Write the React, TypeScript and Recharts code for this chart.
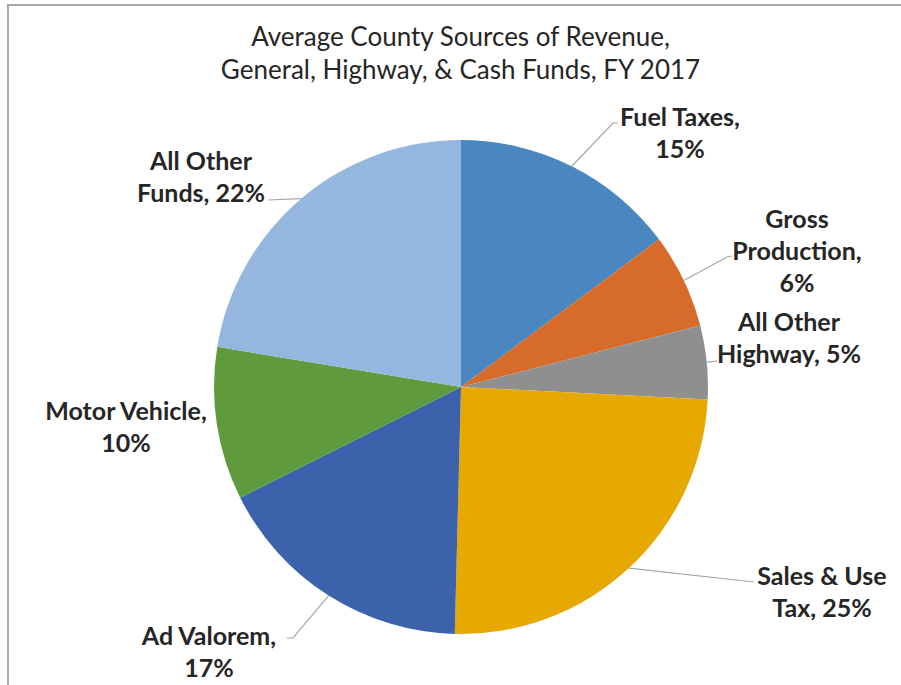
import React from "react";
import { PieChart, Pie, Cell } from "recharts";

const categories = [
  "Fuel Taxes",
  "Gross Production",
  "All Other Highway",
  "Sales & Use Tax",
  "Ad Valorem",
  "Motor Vehicle",
  "All Other Funds",
];
const shares = [14.8, 6.2, 4.8, 24.6, 17.2, 10.0, 22.4];
const percentLabels = [15, 6, 5, 25, 17, 10, 22];
const colors = ["#4a87c0", "#d76b2a", "#8f8f8f", "#e5a902", "#3b62ab", "#5f9b3d", "#95b7df"];

const titleLines = ["Average County Sources of Revenue,", "General, Highway, & Cash Funds, FY 2017"];

// label layout: text centre offsets from pie centre, words per line, leader path points
const labelLayout = [
  { dx: 219, dy: -271, words: [2, 1], path: [[152, -264], [157, -264]] },
  { dx: 336, dy: -169, words: [1, 1, 1], path: [[266, -130], [271, -131]] },
  { dx: 328, dy: -66, words: [2, 2], path: [[256, -26]] },
  { dx: 361, dy: 188, words: [3, 2], path: [[293, 195]] },
  { dx: -252, dy: 248, words: [2, 1], path: [[-168, 251], [-174, 251]] },
  { dx: -335, dy: 23, words: [2, 1], path: [] },
  { dx: -260, dy: -227, words: [2, 2], path: [[-193, -187]] },
];

const data = categories.map((name, i) => ({ name, value: shares[i], pct: percentLabels[i] }));

const FONT = "Lato, 'Open Sans', sans-serif";
const RAD = Math.PI / 180;

const renderLabel = (props: any) => {
  const { cx, cy, midAngle, outerRadius, index } = props;
  const lay = labelLayout[index];
  const d = data[index];
  const words = `${d.name}, ${d.pct}%`.split(" ");
  const lines: string[] = [];
  let k = 0;
  lay.words.forEach((n) => {
    lines.push(words.slice(k, k + n).join(" "));
    k += n;
  });
  const sx = cx + outerRadius * Math.cos(-midAngle * RAD);
  const sy = cy + outerRadius * Math.sin(-midAngle * RAD);
  const pts = [[sx, sy], ...lay.path.map(([x, y]) => [cx + x, cy + y])];
  return (
    <g>
      {pts.length > 1 && (
        <polyline
          points={pts.map((p) => p.join(",")).join(" ")}
          fill="none"
          stroke="#a6a6a6"
          strokeWidth={1.2}
        />
      )}
      <text
        x={cx + lay.dx}
        y={cy + lay.dy}
        textAnchor="middle"
        dominantBaseline="central"
        fill="#262626"
        fontFamily={FONT}
        fontWeight={700}
        fontSize={25}
      >
        {lines.map((ln, i) => (
          <tspan key={i} x={cx + lay.dx} dy={i === 0 ? 0 : 32}>
            {ln}
          </tspan>
        ))}
      </text>
    </g>
  );
};

export default function App() {
  return (
    <div style={{ position: "absolute", left: 0, top: 0, width: 901, height: 685, overflow: "hidden", background: "#fff" }}>
      <div
        style={{
          position: "absolute",
          left: 7,
          top: 4,
          width: 901,
          height: 690,
          borderTop: "2px solid #a8a8a8",
          borderLeft: "2px solid #a8a8a8",
        }}
      />
      <div
        style={{
          position: "absolute",
          left: 0,
          top: 20,
          width: 921,
          textAlign: "center",
          fontFamily: FONT,
          fontSize: 26,
          lineHeight: "33px",
          color: "#262626",
        }}
      >
        {titleLines.map((t, i) => (
          <div key={i}>{t}</div>
        ))}
      </div>
      <div style={{ position: "absolute", left: 0, top: 0 }}>
        <PieChart width={901} height={685} margin={{ top: 0, right: 0, bottom: 0, left: 0 }}>
          <Pie
            data={data}
            dataKey="value"
            nameKey="name"
            cx={461}
            cy={387}
            outerRadius={247}
            startAngle={90}
            endAngle={-270}
            stroke="none"
            label={renderLabel}
            labelLine={false}
            isAnimationActive={false}
          >
            {data.map((d, i) => (
              <Cell key={d.name} fill={colors[i]} />
            ))}
          </Pie>
        </PieChart>
      </div>
    </div>
  );
}
